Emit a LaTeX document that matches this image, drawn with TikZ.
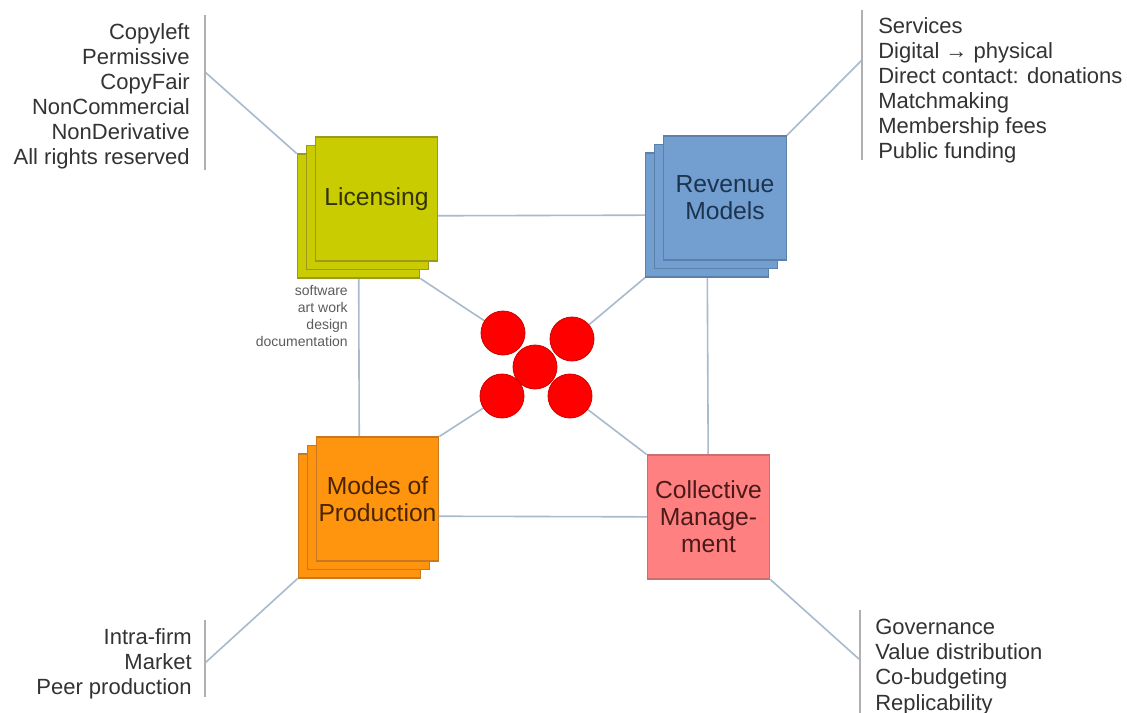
\documentclass[tikz,border=0pt]{standalone}
\usepackage{fontspec}
\setmainfont{Liberation Sans}
\usetikzlibrary{shadows,backgrounds,calc}
\definecolor{ink}{HTML}{333333}
\definecolor{barline}{HTML}{B0B0B0}
\definecolor{linkline}{HTML}{A8BACC}
\definecolor{licfill}{HTML}{C8CC00}
\definecolor{licline}{HTML}{9C9A1C}
\definecolor{lictext}{HTML}{333300}
\definecolor{revfill}{HTML}{729FCF}
\definecolor{revline}{HTML}{5B80AA}
\definecolor{revtext}{HTML}{1C3450}
\definecolor{modfill}{HTML}{FF950E}
\definecolor{modline}{HTML}{C8781E}
\definecolor{modtext}{HTML}{4A2400}
\definecolor{colfill}{HTML}{FF8080}
\definecolor{colline}{HTML}{C87070}
\definecolor{coltext}{HTML}{4A1A1A}
\definecolor{dotred}{HTML}{FF0000}
\definecolor{dotline}{HTML}{D00000}

\begin{document}
\begin{tikzpicture}[x=0.75pt,y=-0.75pt,
    sheet/.style={draw, line width=0.8pt, minimum width=92pt, minimum height=93pt,
      inner sep=0pt, align=center, font=\fontsize{18.5}{20.3}\selectfont},
    stack/.style 2 args={
      copy shadow={shadow xshift=-13.5pt, shadow yshift=-12.75pt, fill=#1, draw=#2},
      copy shadow={shadow xshift=-6.75pt, shadow yshift=-6.4pt, fill=#1, draw=#2}},
    listtxt/.style={inner sep=0pt, text=ink, font=\fontsize{16.5}{18.8}\selectfont},
    bar/.style={barline, line width=0.8pt},
    link/.style={linkline, line width=1.2pt},
    dot/.style={circle, fill=dotred, draw=dotline, line width=0.6pt,
      minimum size=33pt, inner sep=0pt}]
  \useasboundingbox (0,0) rectangle (1127,713);

  % the four blocks
  \node[sheet, fill=licfill, draw=licline, text=lictext, stack={licfill}{licline}]
    (lic) at (376.5,199) {Licensing};
  \node[sheet, fill=revfill, draw=revline, text=revtext, stack={revfill}{revline}]
    (rev) at (725,198) {Revenue\\Models};
  \node[sheet, fill=modfill, draw=modline, text=modtext, stack={modfill}{modline}]
    (mod) at (377.5,499) {Modes of\\Production};
  \node[sheet, fill=colfill, draw=colline, text=coltext]
    (col) at (708.5,517) {Collective\\Manage-\\ment};

  % centre
  \node[dot] (c0) at (535,367) {};
  \node[dot] (c1) at (503,333) {};
  \node[dot] (c2) at (572,339) {};
  \node[dot] (c3) at (502,396) {};
  \node[dot] (c4) at (570,396) {};

  % lists
  \node[listtxt, anchor=east, align=right] (licl) at (190,96)
    {Copyleft\\Permissive\\CopyFair\\NonCommercial\\NonDerivative\\All rights reserved};
  \node[listtxt, anchor=west, align=left] (revl) at (878,90)
    {Services\\Digital → physical\\Direct contact: donations\\Matchmaking\\Membership fees\\Public funding};
  \node[listtxt, anchor=east, align=right] (modl) at (192,664)
    {Intra-firm\\Market\\Peer production};
  \node[listtxt, anchor=west, align=left] (coll) at (875,667)
    {Governance\\Value distribution\\Co-budgeting\\Replicability};
  \node[inner sep=0pt, text=ink!80, align=right, anchor=east,
    font=\fontsize{10.5}{12.75}\selectfont] (licw) at (348,316)
    {software\\art work\\design\\documentation};

  \draw[bar] (205,15) -- (205,170);
  \draw[bar] (862,10) -- (862,160);
  \draw[bar] (205,620) -- (205,697);
  \draw[bar] (860,610) -- (860,713);
  \coordinate (licp) at (205,72);
  \coordinate (revp) at (862,60);
  \coordinate (modp) at (205,663);
  \coordinate (colp) at (860,660);

  % back sheets
  \coordinate (licb) at ($(lic.center)+(-18,17)$);
  \coordinate (revb) at ($(rev.center)+(-18,17)$);
  \coordinate (modb) at ($(mod.center)+(-18,17)$);

  \begin{scope}[on background layer]
    \fill[white] (0,0) rectangle (1127,713);
    \draw[link] (licb) -- (revb);
    \draw[link] (licb) -- (modb);
    \draw[link] (revb) -- (col.center);
    \draw[link] (modb) -- (col.center);
    \draw[link] ($(lic.south east)+(-18,17)$) -- (c1.center);
    \draw[link] ($(rev.south west)+(-18,17)$) -- (c2.center);
    \draw[link] (mod.north east) -- (c3.center);
    \draw[link] (col.north west) -- (c4.center);
    \draw[link] ($(lic.north west)+(-18,17)$) -- (licp);
    \draw[link] (rev.north east) -- (revp);
    \draw[link] ($(mod.south west)+(-18,17)$) -- (modp);
    \draw[link] (col.south east) -- (colp);
  \end{scope}
\end{tikzpicture}
\end{document}
